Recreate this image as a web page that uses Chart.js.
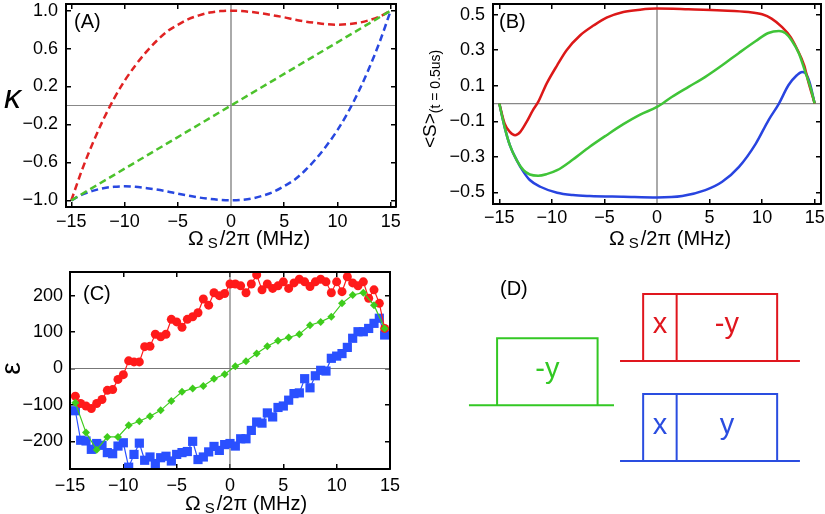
<!DOCTYPE html>
<html><head><meta charset="utf-8">
<script src="https://cdn.jsdelivr.net/npm/chart.js@4.4.1/dist/chart.umd.min.js"></script>
<style>
html,body{margin:0;padding:0;background:#fff;}
#wrap{position:relative;width:825px;height:514px;background:#fff;overflow:hidden;}
canvas{position:absolute;}
</style></head><body>
<div id="wrap">
<canvas id="cA" width="412" height="257" style="left:0;top:0;width:412px;height:257px"></canvas>
<canvas id="cB" width="413" height="257" style="left:412px;top:0;width:413px;height:257px"></canvas>
<canvas id="cC" width="412" height="257" style="left:0;top:257px;width:412px;height:257px"></canvas>
<canvas id="cD" width="413" height="257" style="left:412px;top:257px;width:413px;height:257px"></canvas>
</div>
<script>
// ---------------- DATA ----------------
const aX     = [-15,-14,-13,-12,-11,-10,-9,-8,-7,-6,-5,-4,-3,-2,-1,0,1,2,3,4,5,6,7,8,9,10,11,12,13,14,15];
const aRed   = [-1.00,-0.68,-0.40,-0.15,0.07,0.26,0.42,0.56,0.68,0.78,0.85,0.91,0.95,0.98,0.995,1.00,0.995,0.985,0.97,0.95,0.93,0.905,0.885,0.87,0.857,0.852,0.857,0.872,0.90,0.94,1.00];
const aBlue  = [-1.00,-0.94,-0.90,-0.872,-0.857,-0.852,-0.857,-0.87,-0.885,-0.905,-0.93,-0.95,-0.97,-0.985,-0.995,-1.00,-0.995,-0.98,-0.95,-0.91,-0.85,-0.78,-0.68,-0.56,-0.42,-0.26,-0.07,0.15,0.40,0.68,1.00];
const aGreenX = [-15, 0, 15];
const aGreen  = [-1.0, 0.0, 1.0];
const aTicksX = [-15,-10,-5,0,5,10,15];
const aTicksY = [-1.0,-0.6,-0.2,0.2,0.6,1.0];

const bRedX  = [-15,-14.5,-14,-13.5,-13,-12.4,-11.8,-11.3,-10.5,-9.5,-8.6,-7.3,-6,-4.8,-3.2,-1.6,0,3,6.2,8.7,10,10.9,11.9,12.7,13.3,14,14.4,15];
const bRed   = [0,-0.112,-0.159,-0.178,-0.159,-0.103,-0.037,0.009,0.112,0.215,0.3,0.384,0.44,0.483,0.515,0.528,0.534,0.53,0.524,0.515,0.502,0.478,0.43,0.375,0.31,0.215,0.122,0];
const bGreenX = [-15,-14.5,-14,-13.35,-12.7,-12.1,-11.3,-10.5,-9.5,-8,-6.4,-4.8,-3.2,-1.6,0,1.4,3,4.6,6.2,7.8,9.4,10.6,11.6,12.2,12.8,13.5,14.1,14.6,15];
const bGreen  = [0,-0.131,-0.234,-0.318,-0.375,-0.399,-0.406,-0.397,-0.375,-0.315,-0.243,-0.178,-0.116,-0.062,-0.019,0.037,0.094,0.15,0.215,0.285,0.352,0.397,0.408,0.397,0.356,0.281,0.178,0.09,0];
const bBlueX = [-15,-14.5,-14,-13.35,-12.7,-12.1,-11.1,-9.5,-8,-6.4,-3.2,0,2.4,4.6,6.2,7.8,9.4,10.6,11.6,12.5,13.3,13.8,14.1,14.5,15];
const bBlue  = [0,-0.131,-0.234,-0.318,-0.384,-0.43,-0.468,-0.502,-0.515,-0.52,-0.524,-0.528,-0.52,-0.487,-0.44,-0.356,-0.225,-0.094,0,0.103,0.159,0.178,0.172,0.122,0];
const bTicksX = [-15,-10,-5,0,5,10,15];
const bTicksY = [-0.5,-0.3,-0.1,0.1,0.3,0.5];

const cX = [-14.5,-14,-13.5,-13,-12.5,-12,-11.5,-11,-10.5,-10,-9.5,-9,-8.5,-8,-7.5,-7,-6.5,-6,-5.5,-5,-4.5,-4,-3.5,-3,-2.5,-2,-1.5,-1,-0.5,0,0.5,1,1.5,2,2.5,3,3.5,4,4.5,5,5.5,6,6.5,7,7.5,8,8.5,9,9.5,10,10.5,11,11.5,12,12.5,13,13.5,14,14.5];
const cRed = [-76,-96,-103,-110,-96,-85,-60,-58,-30,-17,21,18,18,60,61,94,87,94,135,128,113,135,142,153,191,174,208,200,206,232,232,227,208,232,257,216,232,220,227,238,220,235,245,238,225,238,245,238,208,238,211,252,235,227,238,193,216,179,110];
const cBlue = [-116,-197,-199,-222,-206,-211,-231,-234,-213,-204,-271,-236,-205,-252,-243,-261,-245,-241,-254,-236,-231,-228,-200,-250,-243,-229,-214,-225,-209,-206,-213,-193,-193,-170,-147,-150,-122,-133,-107,-103,-87,-69,-67,-28,-53,-20,-5,-7,28,34,41,58,83,101,101,110,124,138,92];
const cGreenX = [-14.5,-13.5,-12.5,-11.5,-10.5,-9.5,-8.5,-7.5,-6.5,-5.5,-4.5,-3.5,-2.5,-1.5,-0.5,0.5,1.5,2.5,3.5,4.5,5.5,6.5,7.5,8.5,9.5,10.5,11.5,12.5,13.5,14.5];
const cGreen  = [-94,-176,-223,-188,-188,-156,-145,-131,-115,-89,-64,-55,-48,-28,-16,6,20,41,61,76,85,94,119,128,142,179,202,208,174,110];
const cTicksX = [-15,-10,-5,0,5,10,15];
const cTicksY = [-200,-100,0,100,200];

const dLabels  = [['-y'], ['x','-y'], ['x','y']];
const dLengths = [[3], [1,3], [1,3]];

// ---------------- STYLE / LAYOUT ----------------
const FONT = '"Liberation Sans", Arial, Helvetica, sans-serif';
const TICKFONT = {family: FONT, size: 18};
const colA = {red:'#e02323', green:'#4cc22c', blue:'#2848e0'};
const colB = {red:'#dc1818', green:'#40c438', blue:'#2844e0'};
const colC = {red:'#ff1a1a', green:'#3ecc1c', blue:'#2a50ff'};
const colD = ['#33c824', '#e0161e', '#2a4de0'];
const dRows = [
  {t0:0,    base:3.25, lead:0.84, tail:0.49},
  {t0:4.36, base:4.57, lead:0.69, tail:0.68},
  {t0:4.36, base:1.58, lead:0.69, tail:0.68}
];
const dAmp = 2;
const TL = -5;  // inward tick marks

const minus = v => (v < 0 ? '\u2212' : '') + Math.abs(v);
const minus1 = v => (v < 0 ? '\u2212' : '') + Math.abs(v).toFixed(1);
const pts = (xs, ys) => xs.map((x, i) => ({x, y: ys[i]}));

function rich(ctx, x, y, parts, rot) {
  ctx.save();
  ctx.translate(x, y);
  if (rot) ctx.rotate(-Math.PI / 2);
  ctx.textBaseline = 'alphabetic'; ctx.textAlign = 'left'; ctx.fillStyle = '#000';
  let cx = 0;
  for (const p of parts) {
    ctx.font = (p.style || '') + ' ' + p.size + 'px ' + FONT;
    cx += p.gap || 0;
    ctx.fillText(p.t, cx, p.dy || 0);
    cx += ctx.measureText(p.t).width;
  }
  ctx.restore();
}
const xLabelParts = [{t:'\u03A9', size:21}, {t:'S', size:15, dy:3, gap:4}, {t:'/2\u03C0 (MHz)', size:20, gap:2}];

function deco(cfg) {
  return {
    id: 'deco',
    beforeDatasetsDraw(chart) {
      const ctx = chart.ctx, a = chart.chartArea, x = chart.scales.x, y = chart.scales.y;
      ctx.save();
      const x0 = x.getPixelForValue(0);
      ctx.strokeStyle = cfg.vColor; ctx.lineWidth = cfg.vWidth;
      ctx.beginPath(); ctx.moveTo(x0, a.top); ctx.lineTo(x0, a.bottom); ctx.stroke();
      const y0 = y.getPixelForValue(0);
      ctx.strokeStyle = cfg.hColor; ctx.lineWidth = cfg.hWidth;
      ctx.beginPath(); ctx.moveTo(a.left, y0); ctx.lineTo(a.right, y0); ctx.stroke();
      ctx.restore();
    },
    afterDraw(chart) { cfg.labels(chart.ctx, chart); }
  };
}

const gridOpt = {display: true, drawOnChartArea: false, drawTicks: true, tickLength: TL, color: '#000', lineWidth: 1.5};
const borderOpt = {display: true, color: '#000', width: 2, z: 1};
const noPad = s => { s.paddingTop = 0; s.paddingBottom = 0; s.paddingLeft = 0; s.paddingRight = 0; };

function axes(xr, yr, xt, yt, xh, yw, xpad, ypad, xf, yf) {
  const setX = s => { s.ticks = xt.map(v => ({value: v})); };
  const setY = s => { s.ticks = yt.map(v => ({value: v})); };
  return {
    x: {type: 'linear', position: 'bottom', min: xr[0], max: xr[1], grid: gridOpt, border: borderOpt,
        afterBuildTicks: setX, afterFit: s => { s.height = xh; noPad(s); },
        ticks: {padding: xpad - TL, font: TICKFONT, color: '#000', maxRotation: 0, autoSkip: false, callback: xf}},
    y: {type: 'linear', position: 'left', min: yr[0], max: yr[1], grid: gridOpt, border: borderOpt,
        afterBuildTicks: setY, afterFit: s => { s.width = yw; noPad(s); },
        ticks: {padding: ypad - TL, font: TICKFONT, color: '#000', autoSkip: false, callback: yf}},
    x2: {type: 'linear', axis: 'x', position: 'top', min: xr[0], max: xr[1], grid: gridOpt, border: borderOpt,
        afterBuildTicks: setX, afterFit: s => { s.height = 0; noPad(s); }, ticks: {display: false}},
    y2: {type: 'linear', axis: 'y', position: 'right', min: yr[0], max: yr[1], grid: gridOpt, border: borderOpt,
        afterBuildTicks: setY, afterFit: s => { s.width = 0; noPad(s); }, ticks: {display: false}}
  };
}
const baseOpts = (padding, scales) => ({
  responsive: false, animation: false, devicePixelRatio: 1,
  layout: {padding},
  plugins: {legend: {display: false}, tooltip: {enabled: false}},
  scales
});

// ---------------- PANEL A ----------------
new Chart(document.getElementById('cA'), {
  type: 'line',
  data: {datasets: [
    {data: pts(aGreenX, aGreen), borderColor: colA.green, borderWidth: 2.5, borderDash: [7, 4], pointRadius: 0, tension: 0},
    {data: pts(aX, aRed), borderColor: colA.red, borderWidth: 2.5, borderDash: [7, 4], pointRadius: 0, cubicInterpolationMode: 'monotone'},
    {data: pts(aX, aBlue), borderColor: colA.blue, borderWidth: 2.5, borderDash: [7, 4], pointRadius: 0, cubicInterpolationMode: 'monotone'}
  ]},
  options: baseOpts({top: 4, right: 16, bottom: 0, left: 0},
    axes([-15.5, 15.5], [-1.07, 1.07], aTicksX, aTicksY, 50, 66, 4, 8, minus, minus1)),
  plugins: [deco({vColor: '#aaa', vWidth: 2, hColor: '#888', hWidth: 1.2, labels(ctx) {
    ctx.save(); ctx.fillStyle = '#000';
    ctx.font = '20px ' + FONT; ctx.textAlign = 'left'; ctx.fillText('(A)', 74, 28);
    ctx.font = 'italic 34px ' + FONT; ctx.textAlign = 'center'; ctx.fillText('\u03BA', 12.5, 108);
    ctx.restore();
    rich(ctx, 188, 245, xLabelParts, false);
  }})]
});

// ---------------- PANEL B ----------------
new Chart(document.getElementById('cB'), {
  type: 'line',
  data: {datasets: [
    {data: pts(bGreenX, bGreen), borderColor: colB.green, borderWidth: 2.5, pointRadius: 0, cubicInterpolationMode: 'monotone'},
    {data: pts(bRedX, bRed), borderColor: colB.red, borderWidth: 2.5, pointRadius: 0, cubicInterpolationMode: 'monotone'},
    {data: pts(bBlueX, bBlue), borderColor: colB.blue, borderWidth: 2.5, pointRadius: 0, cubicInterpolationMode: 'monotone'}
  ]},
  options: baseOpts({top: 4, right: 4, bottom: 0, left: 0},
    axes([-15.6, 15.6], [-0.565, 0.56], bTicksX, bTicksY, 53, 81, 3, 8, minus, minus1)),
  plugins: [deco({vColor: '#aaa', vWidth: 2, hColor: '#888', hWidth: 1.2, labels(ctx) {
    ctx.save(); ctx.fillStyle = '#000';
    ctx.font = '20px ' + FONT; ctx.textAlign = 'left'; ctx.fillText('(B)', 87, 28);
    ctx.restore();
    rich(ctx, 24, 148, [{t:'<S>', size:19}, {t:'(t = 0.5us)', size:14, dy:4}], true);
    rich(ctx, 197, 245, xLabelParts, false);
  }})]
});

// ---------------- PANEL C ----------------
new Chart(document.getElementById('cC'), {
  type: 'line',
  data: {datasets: [
    {data: pts(cGreenX, cGreen), borderColor: colC.green, backgroundColor: colC.green, borderWidth: 1.2,
     pointStyle: 'rectRot', pointRadius: 4, pointBorderWidth: 0, tension: 0},
    {data: pts(cX, cRed), borderColor: colC.red, backgroundColor: colC.red, borderWidth: 1.2,
     pointStyle: 'circle', pointRadius: 4.5, pointBorderWidth: 0, tension: 0},
    {data: pts(cX, cBlue), borderColor: colC.blue, backgroundColor: colC.blue, borderWidth: 1.2,
     pointStyle: 'rect', pointRadius: 6.5, pointBorderWidth: 0, tension: 0}
  ]},
  options: baseOpts({top: 15, right: 22, bottom: 0, left: 0},
    axes([-15, 15], [-276, 265], cTicksX, cTicksY, 45, 70, 6, 7, minus, minus)),
  plugins: [deco({vColor: '#777', vWidth: 1.2, hColor: '#777', hWidth: 1.2, labels(ctx) {
    ctx.save(); ctx.fillStyle = '#000';
    ctx.font = '20px ' + FONT; ctx.textAlign = 'left'; ctx.fillText('(C)', 83, 43);
    ctx.translate(12, 111.5); ctx.rotate(-Math.PI / 2);
    ctx.font = '28px ' + FONT; ctx.textAlign = 'center'; ctx.textBaseline = 'middle';
    ctx.fillText('\u03B5', 0, 0);
    ctx.restore();
    rich(ctx, 185, 253, xLabelParts, false);
  }})]
});

// ---------------- PANEL D ----------------
const dDatasets = dRows.map((r, i) => {
  const total = dLengths[i].reduce((s, v) => s + v, 0);
  const t1 = r.t0 + total;
  const d = [
    {x: r.t0 - r.lead, y: r.base}, {x: t1 + r.tail, y: r.base}, {x: t1 + r.tail, y: null},
    {x: r.t0, y: r.base}, {x: r.t0, y: r.base + dAmp}, {x: t1, y: r.base + dAmp}, {x: t1, y: r.base}, {x: t1, y: null}
  ];
  let t = r.t0;
  dLengths[i].slice(0, -1).forEach(L => {
    t += L;
    d.push({x: t, y: r.base}, {x: t, y: r.base + dAmp}, {x: t, y: null});
  });
  return {data: d, borderColor: colD[i], borderWidth: 2, pointRadius: 0, tension: 0, spanGaps: false, clip: false};
});
new Chart(document.getElementById('cD'), {
  type: 'line',
  data: {datasets: dDatasets},
  options: {
    responsive: false, animation: false, devicePixelRatio: 1,
    layout: {padding: 0},
    plugins: {legend: {display: false}, tooltip: {enabled: false}},
    scales: {
      x: {type: 'linear', display: false, min: -2.54, max: -2.54 + 413 / 33.5},
      y: {type: 'linear', display: false, min: 0, max: 257 / 33.5}
    }
  },
  plugins: [{
    id: 'dtext',
    afterDatasetsDraw(chart) {
      const {ctx, scales: {x, y}} = chart;
      ctx.save();
      ctx.fillStyle = '#000'; ctx.font = '20px ' + FONT; ctx.textAlign = 'left';
      ctx.fillText('(D)', 88, 38);
      ctx.font = '29px ' + FONT; ctx.textAlign = 'center'; ctx.textBaseline = 'alphabetic';
      dRows.forEach((r, i) => {
        let t = r.t0;
        ctx.fillStyle = colD[i];
        dLengths[i].forEach((L, j) => {
          const cx = x.getPixelForValue(t + L / 2);
          const cy = y.getPixelForValue(r.base + dAmp / 2);
          ctx.fillText(dLabels[i][j], cx, cy + 6);
          t += L;
        });
      });
      ctx.restore();
    }
  }]
});
</script>
</body></html>
